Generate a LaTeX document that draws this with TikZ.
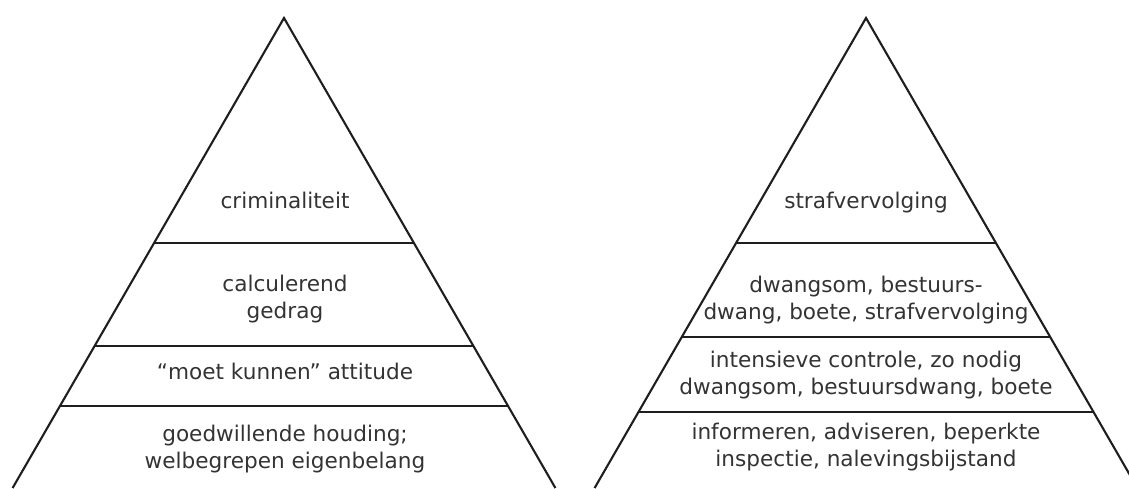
\documentclass[tikz,border=0pt]{standalone}
\usepackage{fontspec}
\setmainfont{DejaVu Sans}
\usetikzlibrary{calc}
\definecolor{ink}{HTML}{1E1E1E}
\definecolor{txt}{HTML}{333333}
\tikzset{
  side/.style={draw=ink, line width=2.1pt, line join=miter},
  divider/.style={draw=ink, line width=2.6pt},
  label/.style={text=txt, anchor=base, align=center, inner sep=0pt,
    font=\fontsize{21.6}{27}\selectfont}
}
\begin{document}
\begin{tikzpicture}[x=1pt,y=-1pt]
\useasboundingbox (0,0) rectangle (1129,488);
\clip (0,0) rectangle (1129,488);
% left pyramid
\coordinate (LA) at (284,18);
\coordinate (LL) at (12.6,488);
\coordinate (LR) at (555.4,488);
\draw[side] (LL) -- (LA) -- (LR);
\coordinate (L1a) at ($(LA)!0.4787!(LL)$);
\coordinate (L1b) at ($(LA)!0.4787!(LR)$);
\coordinate (L2a) at ($(LA)!0.6979!(LL)$);
\coordinate (L2b) at ($(LA)!0.6979!(LR)$);
\coordinate (L3a) at ($(LA)!0.8255!(LL)$);
\coordinate (L3b) at ($(LA)!0.8255!(LR)$);
\draw[divider] (L1a) -- (L1b);
\draw[divider] (L2a) -- (L2b);
\draw[divider] (L3a) -- (L3b);
\node[label] (l1) at (285,208) {criminaliteit};
\node[label] (l2) at (285,318) {calculerend\\gedrag};
\node[label] (l3) at (285,379) {“moet kunnen” attitude};
\node[label] (l4) at (285,468) {goedwillende houding;\\welbegrepen eigenbelang};
% right pyramid
\coordinate (RA) at (866,18);
\coordinate (RL) at (594.6,488);
\coordinate (RR) at (1137.4,488);
\draw[side] (RL) -- (RA) -- (RR);
\coordinate (R1a) at ($(RA)!0.4787!(RL)$);
\coordinate (R1b) at ($(RA)!0.4787!(RR)$);
\coordinate (R2a) at ($(RA)!0.6787!(RL)$);
\coordinate (R2b) at ($(RA)!0.6787!(RR)$);
\coordinate (R3a) at ($(RA)!0.8383!(RL)$);
\coordinate (R3b) at ($(RA)!0.8383!(RR)$);
\draw[divider] (R1a) -- (R1b);
\draw[divider] (R2a) -- (R2b);
\draw[divider] (R3a) -- (R3b);
\node[label] (r1) at (866,208) {strafvervolging};
\node[label] (r2) at (866,319) {dwangsom, bestuurs-\\dwang, boete, strafvervolging};
\node[label] (r3) at (866,394) {intensieve controle, zo nodig\\dwangsom, bestuursdwang, boete};
\node[label] (r4) at (866,466) {informeren, adviseren, beperkte\\inspectie, nalevingsbijstand};
\end{tikzpicture}
\end{document}
